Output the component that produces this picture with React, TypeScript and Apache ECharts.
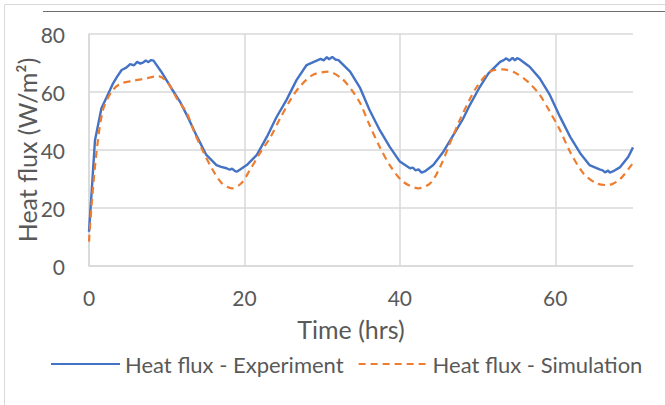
import React, { useEffect, useRef } from "react";
import * as echarts from "echarts";

const expX = [0, 0.35, 0.77, 1.6, 2.3, 3.1, 3.6, 4.2, 4.8, 5.3, 5.8, 6.2, 6.6, 7.0, 7.3, 7.6, 8.0, 8.3, 9.3, 10.6, 11.7, 12.8, 13.9, 15.1, 16.4, 17.0, 17.7, 18.1, 18.4, 18.8, 19.0, 19.4, 20.3, 21.6, 22.9, 24.1, 25.4, 26.7, 28.0, 29.3, 29.8, 30.2, 30.6, 30.9, 31.3, 31.7, 32.1, 33.6, 34.9, 36.1, 37.4, 38.7, 40.0, 41.3, 41.7, 42.0, 42.4, 42.8, 43.2, 44.3, 45.6, 46.9, 48.1, 49.0, 50.3, 51.4, 52.9, 53.3, 53.7, 54.1, 54.5, 54.8, 55.1, 55.4, 56.7, 58.0, 59.3, 60.6, 61.9, 63.2, 64.4, 65.7, 66.1, 66.4, 66.8, 67.0, 67.4, 68.3, 69.4, 70];
const expY = [11.8, 26, 43.4, 54.4, 58.4, 63, 65.2, 67.6, 68.4, 69.6, 69.2, 70.4, 69.8, 70.2, 70.9, 70.3, 71.0, 70.8, 67, 61.3, 56.7, 50.9, 44.6, 38.3, 34.8, 34.2, 33.7, 33.2, 33.6, 32.7, 32.5, 33.2, 34.8, 38.3, 44.6, 51.2, 57.2, 64.1, 69.3, 70.8, 71.4, 70.9, 72.0, 71.3, 72.1, 71.2, 71, 67, 61.3, 53.8, 46.9, 41.1, 36, 33.7, 33.9, 33.0, 33.3, 32.2, 32.6, 34.8, 39.4, 45.2, 50.6, 55.5, 61.8, 66.4, 70.4, 70.9, 71.6, 70.8, 71.8, 70.9, 71.7, 71.3, 68.7, 64.7, 59, 51.5, 44.6, 38.9, 34.8, 33.3, 33.0, 32.3, 32.9, 32.2, 32.6, 34, 37.7, 40.9];

const simX = [0, 0.35, 1.0, 1.8, 2.9, 4.0, 5.7, 7.4, 8.9, 10.2, 11.3, 12.6, 13.6, 14.7, 15.8, 17.1, 18.4, 19.6, 20.7, 22.0, 23.3, 24.6, 25.9, 27.1, 28.8, 30.8, 32.5, 33.8, 34.9, 36.1, 37.4, 38.7, 40.4, 42.4, 43.9, 45.1, 46.4, 47.7, 49.0, 49.9, 51.6, 53.3, 55.0, 56.7, 58.0, 59.3, 60.6, 61.9, 63.6, 65.3, 66.8, 68.3, 69.8, 70];
const simY = [8.4, 21.6, 40, 53.8, 60.1, 62.8, 63.9, 64.7, 65.5, 63, 57.8, 52.7, 45.8, 39.4, 33.7, 28.5, 26.8, 28.5, 33.1, 38.9, 44.2, 50.9, 57.2, 61.8, 65.9, 67, 64.7, 60.7, 56.1, 48.6, 41.1, 34.8, 29.1, 26.8, 28.5, 33.7, 42, 50.3, 57.5, 61.8, 67, 67.8, 66.4, 63, 59, 53.2, 46.9, 39.4, 32, 28.5, 27.9, 29.9, 34.8, 35.5];

const seriesNames = ["Heat flux - Experiment", "Heat flux - Simulation"];
const xTitle = "Time (hrs)";
const yTitle = "Heat flux (W/m²)";

const FONT = "Lato";
const TXT = "#595959";
const GRID = "#D9D9D9";

export default function App() {
  const ref = useRef<HTMLDivElement>(null);
  useEffect(() => {
    if (!ref.current) return;
    const chart = echarts.init(ref.current, undefined, { renderer: "svg" });
    const expData = expX.map((x, i) => [x, expY[i]]);
    const simData = simX.map((x, i) => [x, simY[i]]);
    chart.setOption({
      animation: false,
      backgroundColor: "#ffffff",
      textStyle: { fontFamily: FONT },
      grid: { left: 89, right: 32, top: 34, bottom: 139, containLabel: false, outerBoundsMode: "none" },
      graphic: [
        {
          type: "rect",
          shape: { x: 4.5, y: 4.5, width: 700, height: 500 },
          style: { fill: "none", stroke: GRID, lineWidth: 1 },
          silent: true,
        },
        {
          type: "line",
          shape: { x1: 43, y1: 11.5, x2: 665, y2: 11.5 },
          style: { stroke: "#6e6e6e", lineWidth: 1.2 },
          silent: true,
        },
      ],
      legend: {
        left: 45,
        top: 348,
        itemWidth: 69,
        itemHeight: 20,
        itemGap: 14,
        itemStyle: { opacity: 0 },
        textStyle: { fontFamily: FONT, fontSize: 22, color: TXT },
        data: seriesNames.map((n) => ({ name: n })),
      },
      xAxis: {
        type: "value",
        min: 0,
        max: 70,
        interval: 20,
        name: xTitle,
        nameLocation: "middle",
        nameGap: 50,
        nameMoveOverlap: false,
        nameTextStyle: { fontFamily: FONT, fontSize: 25, color: TXT, padding: [0, 20, 0, 0] },
        axisLine: { show: true, lineStyle: { color: GRID, width: 1.5 } },
        axisTick: { show: false },
        splitLine: { show: true, showMaxLine: false, lineStyle: { color: GRID, width: 1.5 } },
        axisLabel: {
          fontFamily: FONT,
          fontSize: 21,
          color: TXT,
          margin: 21,
          showMaxLabel: false,
          formatter: (v: number) => (v === 70 ? "" : String(v)),
        },
      },
      yAxis: {
        type: "value",
        min: 0,
        max: 80,
        interval: 20,
        name: yTitle,
        nameLocation: "middle",
        nameGap: 50,
        nameMoveOverlap: false,
        nameTextStyle: { fontFamily: FONT, fontSize: 25, color: TXT },
        axisLine: { show: true, lineStyle: { color: GRID, width: 1.5 } },
        axisTick: { show: false },
        splitLine: { show: true, lineStyle: { color: GRID, width: 1.5 } },
        axisLabel: { fontFamily: FONT, fontSize: 21, color: TXT, margin: 24 },
      },
      series: [
        {
          name: seriesNames[0],
          type: "line",
          data: expData,
          showSymbol: false,
          symbol: "none",
          lineStyle: { color: "#4472C4", width: 2.4 },
          itemStyle: { color: "#4472C4" },
        },
        {
          name: seriesNames[1],
          type: "line",
          data: simData,
          showSymbol: false,
          symbol: "none",
          smooth: 0.3,
          lineStyle: { color: "#ED7D31", width: 2.2, type: [7, 5] },
          itemStyle: { color: "#ED7D31" },
        },
      ],
    });
    return () => chart.dispose();
  }, []);
  return (
    <div
      ref={ref}
      style={{ position: "fixed", left: 0, top: 0, width: 665, height: 405, background: "#fff" }}
    />
  );
}
